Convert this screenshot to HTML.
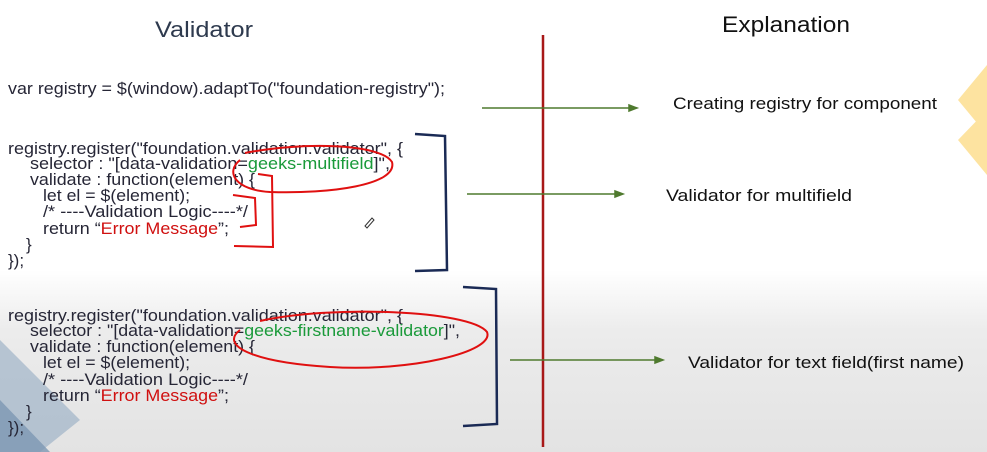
<!DOCTYPE html>
<html><head><meta charset="utf-8"><style>
html,body{margin:0;padding:0;}
body{width:987px;height:452px;overflow:hidden;background:linear-gradient(#fff 0,#fff 270px,#ececec 330px,#e3e3e3 452px);}
svg{position:absolute;left:0;top:0;}
text{font-family:"Liberation Sans",sans-serif;}
</style></head><body>
<svg width="987" height="452" viewBox="0 0 987 452">
<polygon points="0,340 80,420 40,452 0,452" fill="#9fb3c8" opacity="0.7"/>
<polygon points="0,400 50,452 0,452" fill="#7d97b3" opacity="0.8"/>
<polygon points="987,65 958,100 987,135" fill="#fde3a0"/>
<polygon points="987,110 958,140 987,175" fill="#fde3a0"/>
<text x="155" y="37" font-size="22" fill="#2e3a4e" textLength="98" lengthAdjust="spacingAndGlyphs">Validator</text>
<text x="722" y="32" font-size="22" fill="#111" textLength="128" lengthAdjust="spacingAndGlyphs">Explanation</text>
<g font-size="17" fill="#262636">
<text x="8" y="94" textLength="437" lengthAdjust="spacingAndGlyphs">var registry = $(window).adaptTo("foundation-registry");</text>
<text x="8" y="154" textLength="395" lengthAdjust="spacingAndGlyphs">registry.register("foundation.validation.validator", {</text>
<text x="30" y="169" textLength="360" lengthAdjust="spacingAndGlyphs">selector : "[data-validation=<tspan fill="#1a9a3a">geeks-multifield</tspan>]",</text>
<text x="30" y="185" textLength="225" lengthAdjust="spacingAndGlyphs">validate : function(element) {</text>
<text x="43" y="201" textLength="147" lengthAdjust="spacingAndGlyphs">let el = $(element);</text>
<text x="43" y="217" textLength="205" lengthAdjust="spacingAndGlyphs">/* ----Validation Logic----*/</text>
<text x="43" y="234" textLength="186" lengthAdjust="spacingAndGlyphs">return “<tspan fill="#d01010">Error Message</tspan>”;</text>
<text x="26" y="250">}</text>
<text x="8" y="266">});</text>
<text x="8" y="321" textLength="395" lengthAdjust="spacingAndGlyphs">registry.register("foundation.validation.validator", {</text>
<text x="30" y="336" textLength="430" lengthAdjust="spacingAndGlyphs">selector : "[data-validation=<tspan fill="#1a9a3a">geeks-firstname-validator</tspan>]",</text>
<text x="30" y="352" textLength="225" lengthAdjust="spacingAndGlyphs">validate : function(element) {</text>
<text x="43" y="368" textLength="147" lengthAdjust="spacingAndGlyphs">let el = $(element);</text>
<text x="43" y="385" textLength="205" lengthAdjust="spacingAndGlyphs">/* ----Validation Logic----*/</text>
<text x="43" y="401" textLength="186" lengthAdjust="spacingAndGlyphs">return “<tspan fill="#d01010">Error Message</tspan>”;</text>
<text x="26" y="417">}</text>
<text x="8" y="433">});</text>
</g>
<path d="M415,134 L445,136 L447,270 L415,271" fill="none" stroke="#1a2a55" stroke-width="2.5"/>
<path d="M463,287 L496,289 L497,424 L463,426" fill="none" stroke="#1a2a55" stroke-width="2.5"/>
<g fill="none" stroke="#e01010" stroke-width="2">
<path d="M245,153 C300,142 380,143 392,162 C398,185 330,194 270,192 C235,190 225,172 240,160"/>
<path d="M258,174 L272,176 L273,247 L234,246"/>
<path d="M233,195 L255,198 L256,225 L240,227"/>
<path d="M260,321 C330,305 470,310 487,332 C495,352 410,372 330,367 C250,362 220,345 240,330"/>
</g>
<path d="M365,226 l7,-8 l2,2 l-7,8 z" fill="none" stroke="#333" stroke-width="1"/>
<line x1="543" y1="35" x2="543" y2="447" stroke="#a81818" stroke-width="2.5"/>
<g stroke="#4f7a2e" stroke-width="1.5" fill="#4f7a2e">
<line x1="482" y1="108" x2="632" y2="108"/><polygon points="637,108 629,105 629,111"/>
<line x1="467" y1="194" x2="618" y2="194"/><polygon points="623,194 615,191 615,197"/>
<line x1="510" y1="360" x2="658" y2="360"/><polygon points="663,360 655,357 655,363"/>
</g>
<g font-size="17" fill="#111">
<text x="673" y="109" textLength="264" lengthAdjust="spacingAndGlyphs">Creating registry for component</text>
<text x="666" y="201" textLength="186" lengthAdjust="spacingAndGlyphs">Validator for multifield</text>
<text x="688" y="368" textLength="276" lengthAdjust="spacingAndGlyphs">Validator for text field(first name)</text>
</g>
</svg>
</body></html>
